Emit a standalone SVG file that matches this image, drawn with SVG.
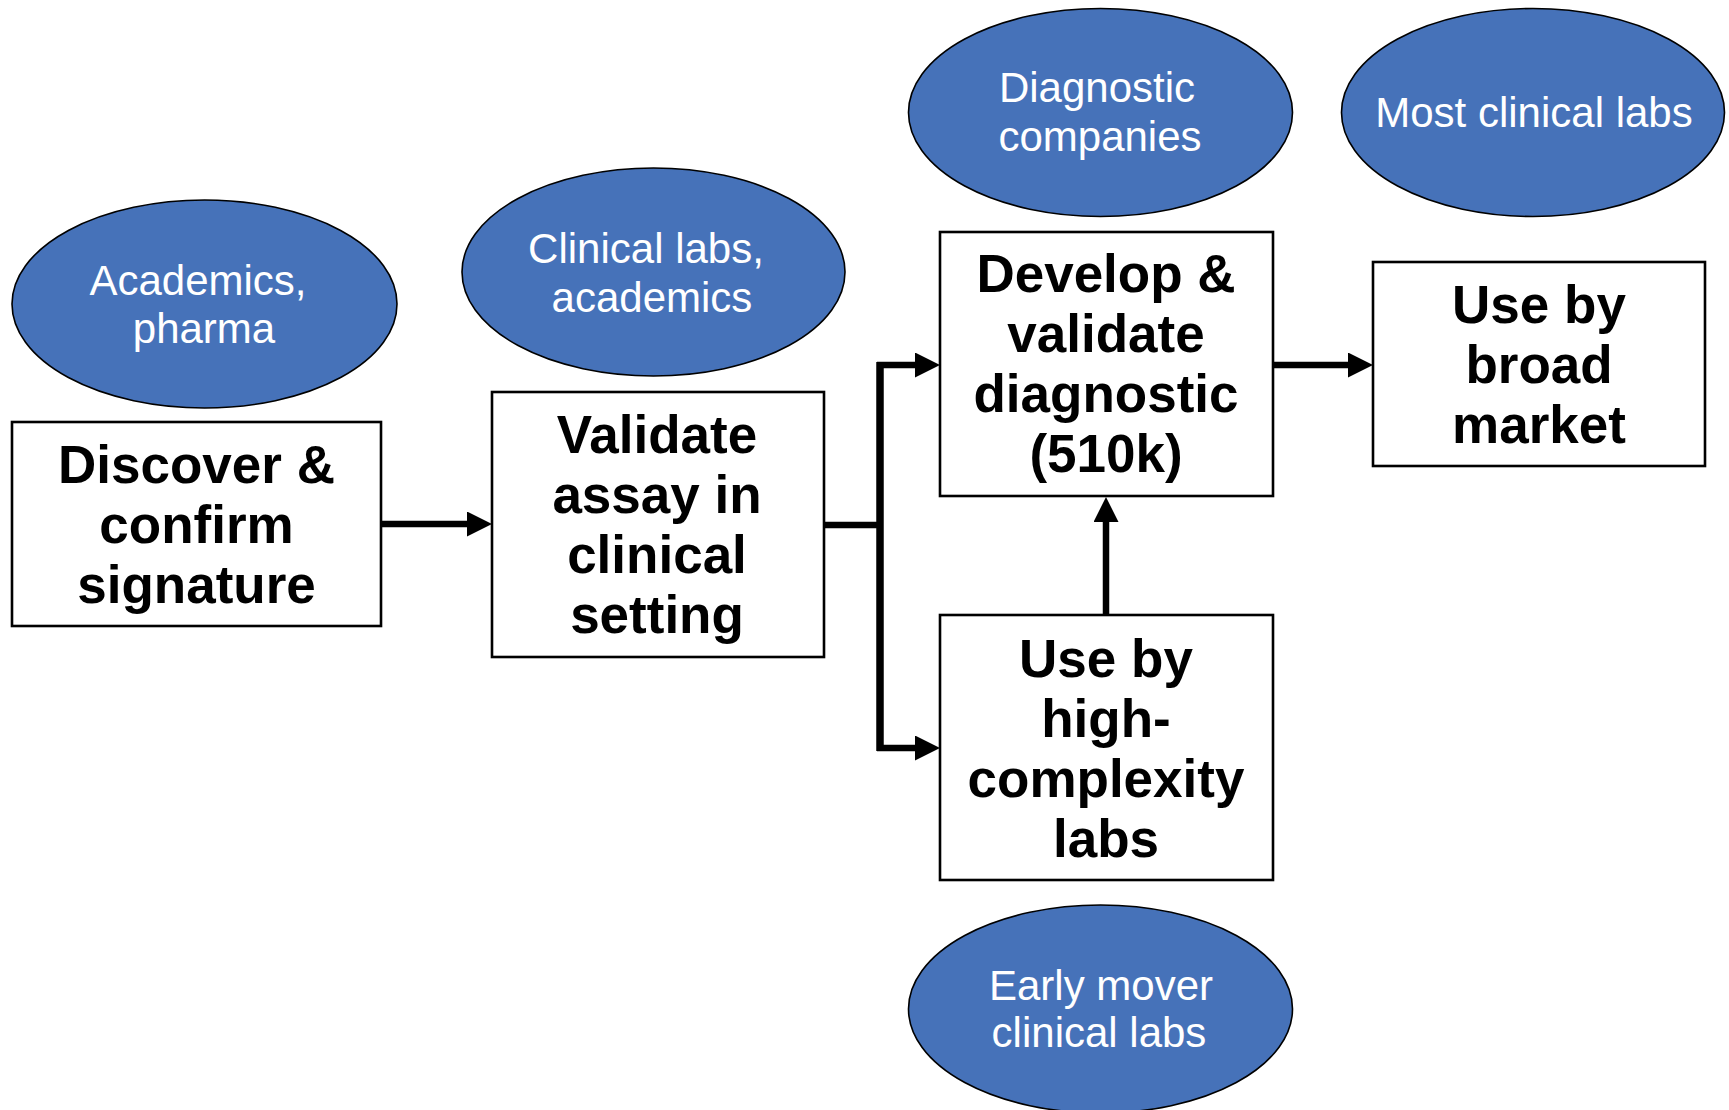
<svg xmlns="http://www.w3.org/2000/svg" width="1729" height="1110" viewBox="0 0 1729 1110">
<style>
.oval{fill:#4672b9;stroke:#000;stroke-width:1.6}
.otext{font-family:"Liberation Sans",Arial,sans-serif;font-size:42px;fill:#fff;text-anchor:middle}
.box{fill:#fff;stroke:#000;stroke-width:2.6}
.btext{font-family:"Liberation Sans",Arial,sans-serif;font-size:53px;font-weight:bold;fill:#000;text-anchor:middle}
.conn{fill:none;stroke:#000;stroke-width:6.5}
</style>
<defs>
<marker id="arr" viewBox="0 0 25 25" refX="0" refY="12.5" markerWidth="25" markerHeight="25" markerUnits="userSpaceOnUse" orient="auto">
<path d="M0,0 L25,12.5 L0,25 z" fill="#000"/>
</marker>
</defs>
<rect width="1729" height="1110" fill="#fff"/>
<g id="connectors">
<path class="conn" d="M381,524 H467" marker-end="url(#arr)"/>
<path class="conn" d="M824,525 H880"/>
<path class="conn" d="M880,362 V751" style="stroke-width:7.5"/>
<path class="conn" d="M877,365 H915" marker-end="url(#arr)"/>
<path class="conn" d="M877,748 H915" marker-end="url(#arr)"/>
<path class="conn" d="M1273,365 H1348" marker-end="url(#arr)"/>
<path class="conn" d="M1106,615 V522" marker-end="url(#arr)"/>
</g>
<g id="academics">
<ellipse class="oval" cx="204.5" cy="304" rx="192.5" ry="104"/>
<text class="otext" x="198" y="295">Academics,</text>
<text class="otext" x="204" y="343">pharma</text>
</g>
<g id="clinical-labs-academics">
<ellipse class="oval" cx="653.5" cy="272" rx="191.5" ry="104"/>
<text class="otext" x="646" y="263">Clinical labs,</text>
<text class="otext" x="652" y="312">academics</text>
</g>
<g id="diagnostic-companies">
<ellipse class="oval" cx="1100.5" cy="112.5" rx="192" ry="104"/>
<text class="otext" x="1097" y="102">Diagnostic</text>
<text class="otext" x="1100" y="151">companies</text>
</g>
<g id="most-clinical-labs">
<ellipse class="oval" cx="1533" cy="112.5" rx="191.5" ry="104"/>
<text class="otext" x="1534" y="127">Most clinical labs</text>
</g>
<g id="early-mover">
<ellipse class="oval" cx="1100.5" cy="1009" rx="192" ry="104"/>
<text class="otext" x="1101" y="1000">Early mover</text>
<text class="otext" x="1099" y="1047">clinical labs</text>
</g>
<g id="discover">
<rect class="box" x="12" y="422" width="369" height="204"/>
<text class="btext" x="196.5" y="483">Discover &amp;</text>
<text class="btext" x="196.5" y="543">confirm</text>
<text class="btext" x="196.5" y="603">signature</text>
</g>
<g id="validate">
<rect class="box" x="492" y="392" width="332" height="265"/>
<text class="btext" x="657" y="453">Validate</text>
<text class="btext" x="657" y="513">assay in</text>
<text class="btext" x="657" y="573">clinical</text>
<text class="btext" x="657" y="633">setting</text>
</g>
<g id="develop">
<rect class="box" x="940" y="232" width="333" height="264"/>
<text class="btext" x="1106" y="292">Develop &amp;</text>
<text class="btext" x="1106" y="352">validate</text>
<text class="btext" x="1106" y="412">diagnostic</text>
<text class="btext" x="1106" y="472">(510k)</text>
</g>
<g id="broad-market">
<rect class="box" x="1373" y="262" width="332" height="204"/>
<text class="btext" x="1539" y="323">Use by</text>
<text class="btext" x="1539" y="383">broad</text>
<text class="btext" x="1539" y="443">market</text>
</g>
<g id="high-complexity">
<rect class="box" x="940" y="615" width="333" height="265"/>
<text class="btext" x="1106" y="677">Use by</text>
<text class="btext" x="1106" y="737">high-</text>
<text class="btext" x="1106" y="797">complexity</text>
<text class="btext" x="1106" y="857">labs</text>
</g>
</svg>
